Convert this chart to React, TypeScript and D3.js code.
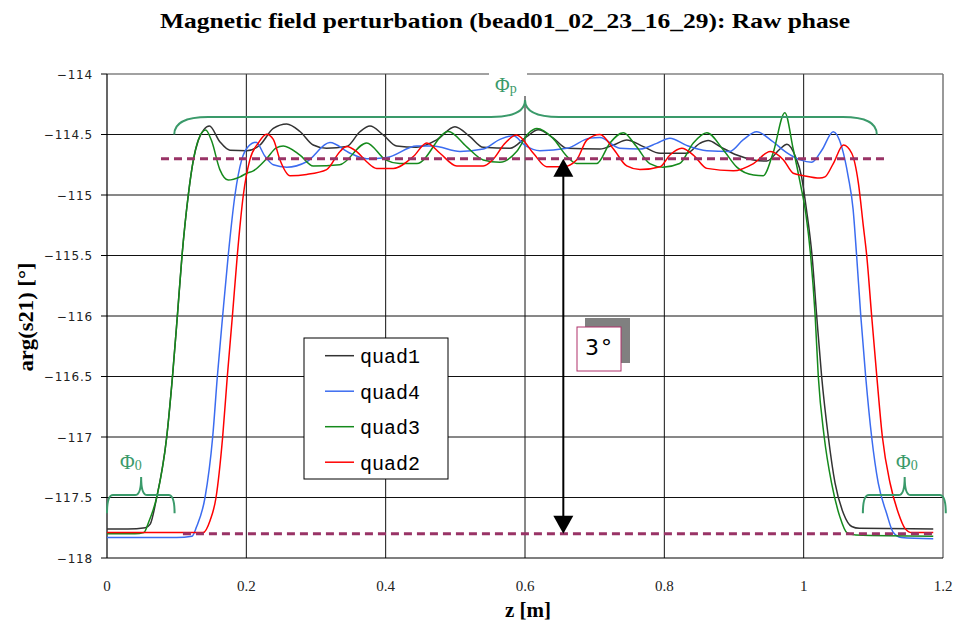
import React from 'react';
import * as d3 from 'd3';

type P = [number, number];

const xTicks = [0, 0.2, 0.4, 0.6, 0.8, 1.0, 1.2];
const xTickLabels = ['0', '0.2', '0.4', '0.6', '0.8', '1', '1.2'];
const yTicks = [-118, -117.5, -117, -116.5, -116, -115.5, -115, -114.5, -114];
const yTickLabels = ['\u2212118', '\u2212117.5', '\u2212117', '\u2212116.5', '\u2212116', '\u2212115.5', '\u2212115', '\u2212114.5', '\u2212114'];

const quad1: P[] = [
  [0, -117.76], [0.03, -117.76], [0.055, -117.75], [0.062, -117.72], [0.0713, -117.5], [0.0857, -117.0],
  [0.094, -116.5], [0.101, -116.0], [0.1077, -115.5], [0.1167, -115.0], [0.124, -114.71], [0.131, -114.55],
  [0.139, -114.46], [0.147, -114.43], [0.162, -114.56], [0.1765, -114.63], [0.2005, -114.634], [0.2196, -114.587],
  [0.2387, -114.45], [0.258, -114.413], [0.277, -114.475], [0.296, -114.587], [0.315, -114.614], [0.344, -114.6],
  [0.363, -114.477], [0.3775, -114.43], [0.3966, -114.504], [0.4158, -114.595], [0.4445, -114.606], [0.4732, -114.545],
  [0.4995, -114.435], [0.521, -114.518], [0.54, -114.606], [0.5785, -114.614], [0.6024, -114.518], [0.619, -114.46],
  [0.6406, -114.53], [0.66, -114.614], [0.7076, -114.62], [0.727, -114.587], [0.746, -114.545], [0.77, -114.6],
  [0.794, -114.655], [0.832, -114.655], [0.851, -114.573], [0.863, -114.55], [0.88, -114.6], [0.904, -114.67],
  [0.928, -114.71], [0.947, -114.72], [0.966, -114.62], [0.976, -114.58], [0.988, -114.68], [0.997, -114.85],
  [1.004, -115.12], [1.012, -115.5], [1.0187, -116.0], [1.0258, -116.5], [1.0354, -117.0], [1.045, -117.38],
  [1.057, -117.63], [1.069, -117.74], [1.08, -117.755], [1.186, -117.76],
];

const quad4: P[] = [
  [0, -117.83], [0.05, -117.83], [0.1, -117.83], [0.122, -117.82], [0.1287, -117.74], [0.1407, -117.5],
  [0.1517, -117.0], [0.1584, -116.5], [0.166, -116.0], [0.174, -115.5], [0.1837, -115.0], [0.1933, -114.71],
  [0.2028, -114.6], [0.2139, -114.565], [0.2268, -114.68], [0.2387, -114.75], [0.258, -114.77], [0.2866, -114.725],
  [0.32, -114.567], [0.349, -114.655], [0.3727, -114.7], [0.4015, -114.69], [0.4445, -114.595], [0.468, -114.595],
  [0.5067, -114.64], [0.54, -114.62], [0.564, -114.54], [0.5832, -114.51], [0.6, -114.59], [0.6215, -114.634],
  [0.66, -114.614], [0.693, -114.53], [0.7076, -114.525], [0.736, -114.614], [0.765, -114.62], [0.789, -114.573],
  [0.808, -114.53], [0.832, -114.59], [0.861, -114.634], [0.894, -114.64], [0.913, -114.545], [0.9325, -114.477],
  [0.956, -114.56], [0.9756, -114.65], [0.995, -114.71], [1.0115, -114.73], [1.026, -114.63], [1.0425, -114.477],
  [1.0545, -114.6], [1.064, -114.85], [1.071, -115.12], [1.076, -115.5], [1.082, -116.0], [1.089, -116.5],
  [1.0976, -117.0], [1.107, -117.38], [1.119, -117.63], [1.1287, -117.79], [1.14, -117.83], [1.186, -117.84],
];

const quad3: P[] = [
  [0, -117.8], [0.04, -117.8], [0.053, -117.79], [0.06, -117.7], [0.0713, -117.5], [0.0857, -117.0],
  [0.094, -116.5], [0.101, -116.0], [0.1077, -115.5], [0.1167, -115.0], [0.124, -114.71], [0.131, -114.545],
  [0.1416, -114.463], [0.15, -114.55], [0.162, -114.79], [0.174, -114.876], [0.191, -114.85], [0.2005, -114.82],
  [0.21, -114.8], [0.229, -114.7], [0.243, -114.61], [0.253, -114.595], [0.277, -114.67], [0.296, -114.76],
  [0.334, -114.75], [0.3727, -114.57], [0.4, -114.71], [0.42, -114.74], [0.445, -114.74], [0.49, -114.475],
  [0.516, -114.6], [0.54, -114.71], [0.564, -114.73], [0.588, -114.64], [0.605, -114.49], [0.617, -114.45],
  [0.64, -114.53], [0.66, -114.68], [0.674, -114.74], [0.703, -114.74], [0.722, -114.57], [0.741, -114.485],
  [0.76, -114.6], [0.779, -114.74], [0.798, -114.77], [0.822, -114.74], [0.8416, -114.57], [0.861, -114.485],
  [0.885, -114.63], [0.904, -114.77], [0.928, -114.835], [0.942, -114.84], [0.956, -114.655], [0.973, -114.32],
  [0.985, -114.62], [0.995, -114.9], [1.003, -115.15], [1.01, -115.5], [1.0165, -116.0], [1.021, -116.5],
  [1.0295, -117.0], [1.04, -117.38], [1.052, -117.66], [1.062, -117.79], [1.075, -117.81], [1.186, -117.82],
];

const quad2: P[] = [
  [0, -117.79], [0.07, -117.79], [0.138, -117.79], [0.148, -117.69], [0.1565, -117.5], [0.166, -117.0],
  [0.1727, -116.5], [0.18, -116.0], [0.187, -115.5], [0.1957, -115.0], [0.205, -114.71], [0.2172, -114.57],
  [0.229, -114.497], [0.2387, -114.54], [0.2483, -114.71], [0.2627, -114.84], [0.2866, -114.83], [0.3153, -114.79],
  [0.3345, -114.64], [0.344, -114.6], [0.358, -114.64], [0.3727, -114.725], [0.387, -114.78], [0.411, -114.78],
  [0.44, -114.68], [0.459, -114.57], [0.478, -114.655], [0.502, -114.76], [0.54, -114.76], [0.555, -114.7],
  [0.57, -114.58], [0.588, -114.505], [0.612, -114.655], [0.631, -114.766], [0.655, -114.766], [0.674, -114.71],
  [0.689, -114.545], [0.7076, -114.5], [0.727, -114.62], [0.746, -114.76], [0.765, -114.79], [0.794, -114.766],
  [0.808, -114.67], [0.825, -114.614], [0.8416, -114.67], [0.861, -114.78], [0.899, -114.8], [0.928, -114.74],
  [0.952, -114.64], [0.971, -114.71], [0.985, -114.82], [1.0, -114.84], [1.023, -114.86], [1.0306, -114.85],
  [1.0425, -114.74], [1.057, -114.587], [1.069, -114.655], [1.0785, -114.9], [1.0857, -115.26], [1.0905, -115.5],
  [1.0976, -116.0], [1.105, -116.5], [1.113, -117.0], [1.124, -117.38], [1.136, -117.63], [1.1454, -117.755],
  [1.155, -117.79], [1.186, -117.79],
];

const seriesNames = ['quad1', 'quad4', 'quad3', 'quad2'];
const seriesData = [quad1, quad4, quad3, quad2];
const seriesColors = ['#333333', '#3b6cf0', '#158a1c', '#ff0000'];
const drawOrder = [0, 1, 2, 3];

const refLevels = [-114.7, -117.8];
const refSpans: P[] = [[0.0775, 1.117], [0.109, 1.186]];
const arrowX = 0.655;

// braces: [x0, x1, xTip, yBase, yMid, yTip]
const bracePhiP = [0.0965, 1.105, 0.6, -114.5, -114.355, -114.215];
const bracePhi0L = [0.0, 0.097, 0.049, -117.63, -117.48, -117.33];
const bracePhi0R = [1.085, 1.204, 1.145, -117.63, -117.48, -117.33];

export default function App() {
  const W = 957, H = 625;
  const x = d3.scaleLinear().domain([0, 1.2]).range([107, 943]);
  const y = d3.scaleLinear().domain([-118, -114]).range([558, 74]);
  const line = d3.line<P>().x(d => x(d[0])).y(d => y(d[1])).curve(d3.curveMonotoneX);

  const brace = (b: number[], r: number) => {
    const x0 = x(b[0]), x1 = x(b[1]), xc = x(b[2]);
    const yb = y(b[3]), ym = y(b[4]), yt = y(b[5]);
    return `M${x0},${yb} Q${x0},${ym} ${x0 + r},${ym} L${xc - r},${ym} Q${xc},${ym} ${xc},${yt} Q${xc},${ym} ${xc + r},${ym} L${x1 - r},${ym} Q${x1},${ym} ${x1},${yb}`;
  };

  const braceColor = '#3a9a6a';
  const left = x(0), right = x(1.2), top = y(-114), bottom = y(-118);
  const ax = x(arrowX);
  const aTop = y(refLevels[0]), aBot = y(refLevels[1]);

  const legX = 304, legY = 338, legW = 144, legH = 141;

  return (
    <svg width={W} height={H} style={{ position: 'absolute', left: 0, top: 0, background: '#fff' }}>
      <rect x={0} y={0} width={W} height={H} fill="#fff" />
      <text x={505} y={28} textAnchor="middle" fontFamily="Liberation Serif" fontWeight="bold" fontSize={22}
        textLength={690} lengthAdjust="spacingAndGlyphs">
        Magnetic field perturbation (bead01_02_23_16_29): Raw phase
      </text>

      {/* grid */}
      {xTicks.slice(1, -1).map((t, i) => (
        <line key={'gx' + i} x1={x(t)} x2={x(t)} y1={top} y2={bottom} stroke="#111" strokeWidth={1} />
      ))}
      {yTicks.slice(1, -1).map((t, i) => (
        <line key={'gy' + i} x1={left} x2={right} y1={y(t)} y2={y(t)} stroke="#111" strokeWidth={1} />
      ))}
      {/* border */}
      <line x1={left} x2={right} y1={top} y2={top} stroke="#444" strokeWidth={1.2} />
      <line x1={right} x2={right} y1={top} y2={bottom} stroke="#777" strokeWidth={1.5} />
      <line x1={left} x2={right} y1={bottom} y2={bottom} stroke="#000" strokeWidth={1.2} />
      <line x1={left} x2={left} y1={top} y2={bottom} stroke="#000" strokeWidth={1.2} />

      {/* y ticks */}
      {yTicks.map((t, i) => (
        <g key={'yt' + i}>
          <line x1={left - 6} x2={left} y1={y(t)} y2={y(t)} stroke="#000" strokeWidth={1} />
          <text x={93} y={y(t) + 4.5} textAnchor="end" fontFamily="DejaVu Sans" fontSize={12} fill="#222" letterSpacing={0.8}>
            {yTickLabels[i]}
          </text>
        </g>
      ))}
      {/* x ticks */}
      {xTicks.map((t, i) => (
        <text key={'xt' + i} x={x(t)} y={591} textAnchor="middle" fontFamily="Liberation Serif" fontSize={15} fill="#222">
          {xTickLabels[i]}
        </text>
      ))}

      <text x={528} y={617} textAnchor="middle" fontFamily="Liberation Serif" fontWeight="bold" fontSize={21}>z [m]</text>
      <text transform={`translate(33,317) rotate(-90)`} textAnchor="middle" fontFamily="Liberation Serif" fontWeight="bold" fontSize={21}
        textLength={109} lengthAdjust="spacingAndGlyphs">
        arg(s21) [°]
      </text>

      {/* series */}
      {drawOrder.map(i => (
        <path key={'s' + i} d={line(seriesData[i]) || ''} fill="none" stroke={seriesColors[i]} strokeWidth={1.5} />
      ))}

      {/* reference dashed lines */}
      {refLevels.map((lv, i) => (
        <line key={'ref' + i} x1={x(refSpans[i][0])} x2={x(refSpans[i][1])} y1={y(lv)} y2={y(lv)}
          stroke="#993366" strokeWidth={3} strokeDasharray="8,5" />
      ))}

      {/* arrow */}
      <line x1={ax} x2={ax} y1={aTop + 10} y2={aBot - 10} stroke="#000" strokeWidth={2} />
      <path d={`M${ax},${aTop} L${ax - 10},${aTop + 18} L${ax + 10},${aTop + 18} Z`} fill="#000" />
      <path d={`M${ax},${aBot} L${ax - 10},${aBot - 18} L${ax + 10},${aBot - 18} Z`} fill="#000" />

      {/* braces */}
      <path d={brace(bracePhiP, 34)} fill="none" stroke={braceColor} strokeWidth={2} />
      <path d={brace(bracePhi0L, 6)} fill="none" stroke={braceColor} strokeWidth={2} />
      <path d={brace(bracePhi0R, 6)} fill="none" stroke={braceColor} strokeWidth={2} />
      <rect x={489} y={70} width={38} height={26} fill="#fff" />
      <text x={495} y={92} fontFamily="Liberation Serif" fontSize={20} fill={braceColor}>
        Φ<tspan fontSize={14} dy={1}>p</tspan>
      </text>
      <text x={120} y={469} fontFamily="Liberation Serif" fontSize={20} fill={braceColor}>
        Φ<tspan fontSize={14} dy={1}>0</tspan>
      </text>
      <text x={896} y={469} fontFamily="Liberation Serif" fontSize={20} fill={braceColor}>
        Φ<tspan fontSize={14} dy={1}>0</tspan>
      </text>

      {/* legend */}
      <rect x={legX} y={legY} width={legW} height={legH} fill="#fff" stroke="#000" strokeWidth={1} />
      {seriesNames.map((n, i) => (
        <g key={'lg' + i}>
          <line x1={325} x2={354} y1={355.7 + i * 35.5} y2={355.7 + i * 35.5} stroke={seriesColors[i]} strokeWidth={1.5} />
          <text x={360} y={363.3 + i * 35.5} fontFamily="Liberation Mono" fontSize={20} fill="#000">{n}</text>
        </g>
      ))}

      {/* 3 degree box */}
      <rect x={585} y={318} width={45} height={45} fill="#808080" />
      <rect x={577} y={327} width={44} height={44} fill="#fff" stroke="#b0306a" strokeWidth={1} />
      <text x={585} y={355} fontFamily="DejaVu Sans" fontSize={22} fill="#000" letterSpacing={2}>3°</text>
    </svg>
  );
}
